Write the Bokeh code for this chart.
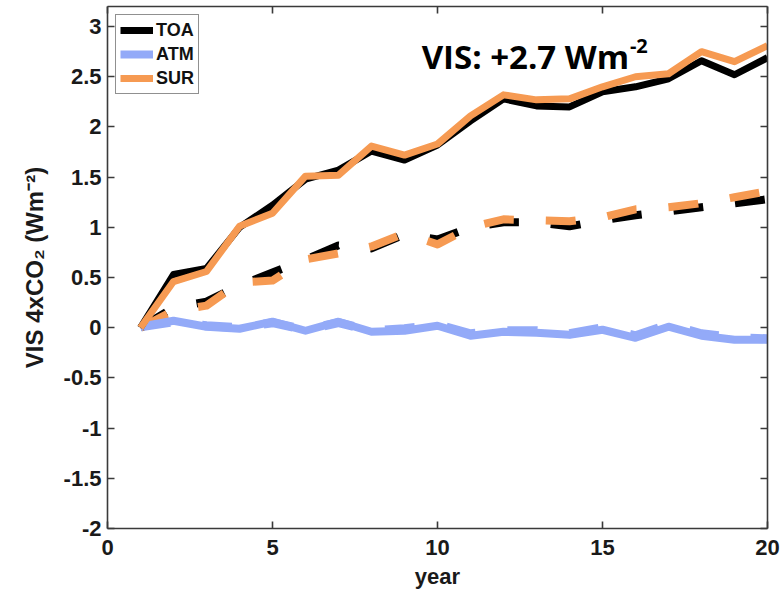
from bokeh.plotting import figure
from bokeh.models import Range1d, LinearAxis, FixedTicker, Legend, LegendItem, Label
from bokeh.embed import file_html
from bokeh.resources import INLINE

# ---- data ----
years = list(range(1, 21))
toa_solid = [0.0, 0.53, 0.59, 1.00, 1.22, 1.48, 1.57, 1.76, 1.67, 1.82,
             2.06, 2.28, 2.21, 2.20, 2.35, 2.40, 2.48, 2.66, 2.52, 2.69]
sur_solid = [0.0, 0.46, 0.56, 1.01, 1.14, 1.51, 1.52, 1.81, 1.72, 1.83,
             2.11, 2.32, 2.27, 2.28, 2.40, 2.50, 2.53, 2.75, 2.65, 2.81]
atm_solid = [0.01, 0.07, 0.01, -0.01, 0.06, -0.03, 0.06, -0.04, -0.03, 0.02,
             -0.08, -0.04, -0.05, -0.07, -0.02, -0.10, 0.01, -0.08, -0.12, -0.12]
toa_dashed = [0.0, 0.20, 0.26, 0.42, 0.55, 0.68, 0.82, 0.79, 0.93, 0.88,
              1.00, 1.05, 1.05, 1.01, 1.07, 1.12, 1.16, 1.20, 1.24, 1.28]
sur_dashed = [0.0, 0.17, 0.22, 0.45, 0.47, 0.68, 0.74, 0.81, 0.94, 0.83,
              1.00, 1.08, 1.07, 1.06, 1.10, 1.18, 1.20, 1.24, 1.30, 1.36]
atm_dashed = [0.01, 0.06, 0.02, 0.00, 0.05, -0.02, 0.05, -0.03, -0.01, 0.03,
              -0.06, -0.03, -0.03, -0.06, 0.00, -0.08, 0.03, -0.06, -0.10, -0.11]

x_ticks = [0, 5, 10, 15, 20]
y_ticks = [-2, -1.5, -1, -0.5, 0, 0.5, 1, 1.5, 2, 2.5, 3]
y_tick_labels = ["-2", "-1.5", "-1", "-0.5", "0", "0.5", "1", "1.5", "2", "2.5", "3"]
series_names = ["TOA", "ATM", "SUR"]
annotation_main = "VIS: +2.7 Wm"
annotation_sup = "-2"

# ---- styles ----
BLACK = "#000000"
BLUE = "#93AAF8"
ORANGE = "#F69A52"
AXIS_COLOR = "#3a3a3a"
FONT = "Liberation Sans"

p = figure(width=782, height=591,
           x_range=Range1d(0, 20), y_range=Range1d(-2, 3.2),
           output_backend="svg", toolbar_location=None,
           min_border_left=107, min_border_right=15,
           min_border_top=6, min_border_bottom=63)
p.grid.visible = False
p.outline_line_color = None
p.background_fill_color = "white"
p.border_fill_color = "white"

# extra axes to close the box (ticks only)
p.add_layout(LinearAxis(), "above")
p.add_layout(LinearAxis(), "right")

for ax in p.xaxis:
    ax.ticker = FixedTicker(ticks=x_ticks)
for ax in p.yaxis:
    ax.ticker = FixedTicker(ticks=y_ticks)

for ax in p.axis:
    ax.axis_line_color = AXIS_COLOR
    ax.axis_line_width = 1.6
    ax.major_tick_line_color = AXIS_COLOR
    ax.major_tick_line_width = 1.6
    ax.major_tick_in = 7
    ax.major_tick_out = 0
    ax.minor_tick_line_color = None
    ax.major_label_text_font = FONT
    ax.major_label_text_font_style = "bold"
    ax.major_label_text_font_size = "22px"
    ax.major_label_text_color = "#1a1a1a"
    ax.axis_label_text_font = FONT
    ax.axis_label_text_font_style = "bold"
    ax.axis_label_text_font_size = "22px"
    ax.axis_label_text_color = "#1a1a1a"

p.left[0].major_label_overrides = {t: l for t, l in zip(y_ticks, y_tick_labels)}
p.above[0].major_label_overrides = {t: "" for t in x_ticks}
p.above[0].major_label_standoff = 0
p.right[0].major_label_overrides = {t: "" for t in y_ticks}
p.right[0].major_label_standoff = 0

p.below[0].major_label_standoff = 11
p.below[0].axis_label = "year"
p.below[0].axis_label_standoff = 6
p.left[0].axis_label = "VIS 4xCO₂ (Wm⁻²)"
p.left[0].axis_label_text_font_size = "24px"
p.left[0].major_label_standoff = 6
p.left[0].axis_label_standoff = 13

DASH = "30 32"

# dashed (second experiment)
p.line(years, atm_dashed, line_color=BLUE, line_width=9, line_dash=DASH, line_join="round")
p.line(years, toa_dashed, line_color=BLACK, line_width=8, line_dash=DASH, line_join="round")
p.line(years, sur_dashed, line_color=ORANGE, line_width=8, line_dash=DASH, line_join="round")

# solid
r_atm = p.line(years, atm_solid, line_color=BLUE, line_width=8, line_join="round")
r_toa = p.line(years, toa_solid, line_color=BLACK, line_width=7, line_join="round")
r_sur = p.line(years, sur_solid, line_color=ORANGE, line_width=7, line_join="round")

legend = Legend(items=[LegendItem(label=series_names[0], renderers=[r_toa]),
                       LegendItem(label=series_names[1], renderers=[r_atm]),
                       LegendItem(label=series_names[2], renderers=[r_sur])],
                location="top_left", margin=8, padding=4, spacing=2,
                glyph_width=33, glyph_height=22, label_height=22,
                label_standoff=3,
                label_text_font=FONT, label_text_font_style="bold",
                label_text_font_size="18px", label_text_color="#111111",
                border_line_color="#222222", border_line_width=1.5,
                background_fill_color="white", background_fill_alpha=1.0)
p.add_layout(legend)

p.add_layout(Label(x=9.52, y=2.70, text=annotation_main,
                   text_font="Open Sans", text_font_style="bold",
                   text_font_size="33px", text_color="black",
                   text_baseline="alphabetic", text_align="left"))
p.add_layout(Label(x=15.83, y=2.81, text=annotation_sup,
                   text_font="Open Sans", text_font_style="bold",
                   text_font_size="20px", text_color="black",
                   text_baseline="alphabetic", text_align="left"))

open("out.html", "w").write(file_html(p, INLINE))
